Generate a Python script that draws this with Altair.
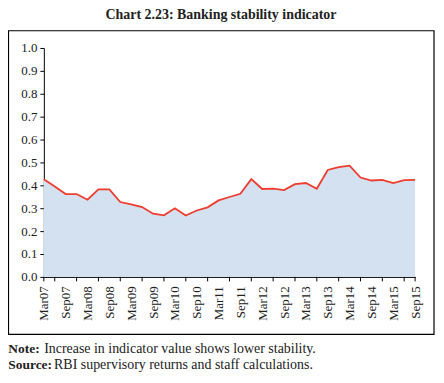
import altair as alt
import pandas as pd

title_text = "Chart 2.23: Banking stability indicator"
quarters = ["Mar07", "Jun07", "Sep07", "Dec07", "Mar08", "Jun08", "Sep08", "Dec08",
            "Mar09", "Jun09", "Sep09", "Dec09", "Mar10", "Jun10", "Sep10", "Dec10",
            "Mar11", "Jun11", "Sep11", "Dec11", "Mar12", "Jun12", "Sep12", "Dec12",
            "Mar13", "Jun13", "Sep13", "Dec13", "Mar14", "Jun14", "Sep14", "Dec14",
            "Mar15", "Jun15", "Sep15"]
values = [0.427, 0.395, 0.362, 0.362, 0.337, 0.382, 0.382, 0.327,
          0.317, 0.305, 0.276, 0.269, 0.300, 0.268, 0.290, 0.304,
          0.334, 0.349, 0.363, 0.427, 0.384, 0.386, 0.379, 0.405,
          0.410, 0.385, 0.467, 0.480, 0.486, 0.434, 0.421, 0.424,
          0.410, 0.423, 0.424]
y_ticks = [0.0, 0.1, 0.2, 0.3, 0.4, 0.5, 0.6, 0.7, 0.8, 0.9, 1.0]
note_labels = ["Note:", "Source:"]
note_texts = ["Increase in indicator value shows lower stability.",
              "RBI supervisory returns and staff calculations."]

FONT = "Liberation Serif"
W, H = 373, 230

df = pd.DataFrame({"i": list(range(len(quarters))), "q": quarters, "v": values})
label_idx = list(range(0, len(quarters), 2))
tick_idx = [0] + list(range(1, len(quarters), 2)) + [len(quarters) - 1]
ticks_df = pd.DataFrame({"i": tick_idx})

arr = "[" + ",".join("'" + q + "'" for q in quarters) + "]"

xscale = alt.Scale(domain=[0, len(quarters) - 1], nice=False, zero=False)
yscale = alt.Scale(domain=[0, 1], nice=False)

def x_axis():
    return alt.Axis(values=label_idx, labelExpr=arr + "[datum.value]", title=None,
                    ticks=False, tickSize=0, labelPadding=9, labelAngle=270,
                    labelFlush=False, labelOverlap=False, labelFont=FONT,
                    labelFontSize=13, labelColor="#222", domainColor="#000",
                    grid=False)

def y_axis():
    return alt.Axis(values=y_ticks, format=".1f", title=None, tickSize=4,
                    tickColor="#000", domainColor="#000", labelPadding=3,
                    labelOverlap=False, labelFlush=False,
                    labelFont=FONT, labelFontSize=13, labelColor="#222",
                    grid=False)

base = alt.Chart(df)
area = base.mark_area(color="#d3e1f1", opacity=1).encode(
    x=alt.X("i:Q", scale=xscale, axis=x_axis()),
    y=alt.Y("v:Q", scale=yscale, axis=y_axis()),
)
line = base.mark_line(color="#f03c2e", strokeWidth=1.8).encode(
    x=alt.X("i:Q", scale=xscale, axis=x_axis()),
    y=alt.Y("v:Q", scale=yscale, axis=y_axis()),
)
ticks = alt.Chart(ticks_df).mark_rule(color="#000", strokeWidth=1).encode(
    x=alt.X("i:Q", scale=xscale, axis=x_axis()),
    y=alt.value(H),
    y2=alt.value(H + 4.5),
)

box = alt.Chart(pd.DataFrame({"a": [0]})).mark_rect(
    fill=None, stroke="#000", strokeWidth=1.2
).encode(
    x=alt.value(-35.5), x2=alt.value(392), y=alt.value(-17.3), y2=alt.value(287.7)
)

title = alt.Chart(pd.DataFrame({"t": [title_text]})).mark_text(
    font=FONT, fontSize=14, fontWeight="bold", color="#222", align="center", baseline="alphabetic"
).encode(text="t:N", x=alt.value(178), y=alt.value(-29))

notes_df = pd.DataFrame({"lab": note_labels, "txt": note_texts,
                         "yy": [306, 322.7], "xx": [0.3, 10.3]})
note_lab = alt.Chart(notes_df).mark_text(
    font=FONT, fontSize=13.5, fontWeight="bold", color="#222", align="left", baseline="alphabetic"
).encode(text="lab:N", x=alt.value(-35.7), y=alt.Y("yy:Q", scale=None))
note_txt = alt.Chart(notes_df).mark_text(
    font=FONT, fontSize=14, color="#222", align="left", baseline="alphabetic"
).encode(text="txt:N", x=alt.X("xx:Q", scale=None), y=alt.Y("yy:Q", scale=None))

chart = alt.layer(area, line, ticks, box, title, note_lab, note_txt).properties(
    width=W, height=H,
    autosize=alt.AutoSizeParams(type="none"),
    padding={"left": 36, "top": 39.3, "right": 21, "bottom": 97},
).configure_view(stroke=None).configure_axis(domainWidth=1, labelOverlap=False)

chart.save("out.html", embed_options={"renderer": "svg", "actions": False})
